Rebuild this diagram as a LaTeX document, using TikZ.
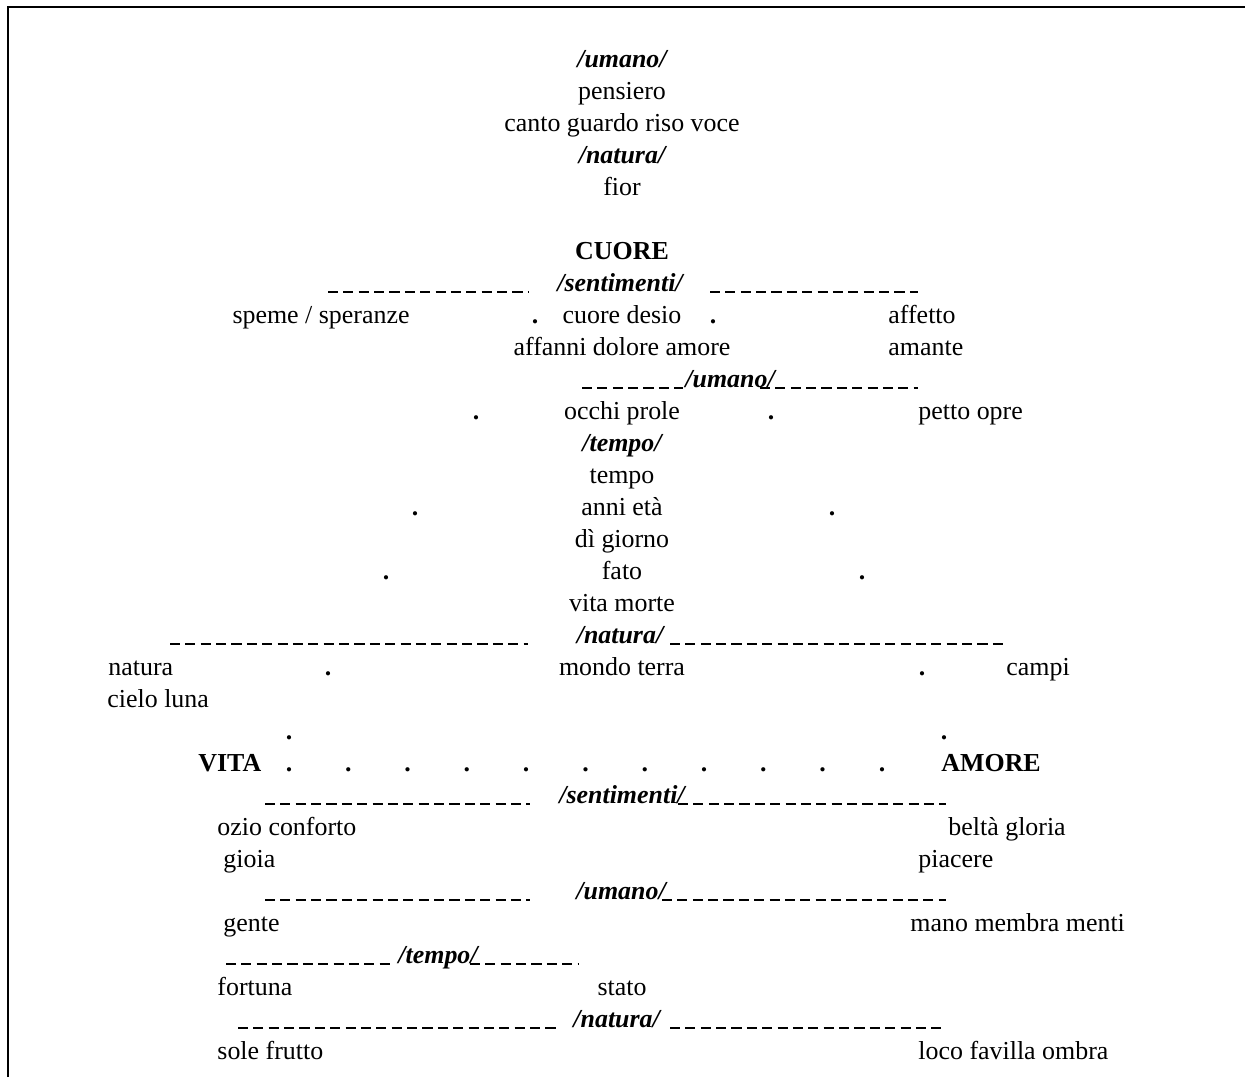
\documentclass[tikz,border=0pt]{standalone}
\usepackage{fontspec}
\setmainfont{Liberation Serif}
\usetikzlibrary{positioning}
\newcommand{\txtsize}{\fontsize{11.8pt}{14pt}\selectfont}
\tikzset{
  word/.style={anchor=base,inner sep=0pt,font=\txtsize},
  lword/.style={word,anchor=base west},
  cat/.style={anchor=base,inner sep=0pt,font=\txtsize\bfseries\itshape},
  lcat/.style={cat,anchor=base west},
  head/.style={anchor=base,inner sep=0pt,font=\txtsize\bfseries},
  lhead/.style={head,anchor=base west},
  pt/.style={head},
  rule/.style={line width=0.7pt,dash pattern=on 4.6pt off 2.4pt},
  frame/.style={line width=0.9pt}
}
\begin{document}
\begin{tikzpicture}[x=0.016cm,y=-0.016cm]
\useasboundingbox (0,0) rectangle (1245,1077);
\draw[frame] (8,1077) -- (8,7) -- (1245,7);

% top of the tree
\node[cat] (umano1) at (622,67) {/umano/};
\node[word] (pensiero) at (622,99) {pensiero};
\node[word] (canto) at (622,131) {canto guardo riso voce};
\node[cat] (natura1) at (622,163) {/natura/};
\node[word] (fior) at (622,195) {fior};

% CUORE
\node[head] (cuore) at (622,259) {CUORE};
\draw[rule] (328,292) -- (528,292);
\node[cat] (sent1) at (620,291) {/sentimenti/};
\draw[rule] (710,292) -- (918,292);
\node[word] (speme) at (321,323) {speme / speranze};
\node[pt] (dA) at (535,323) {.};
\node[word] (desio) at (622,323) {cuore desio};
\node[pt] (dB) at (713,323) {.};
\node[lword] (affetto) at (888,323) {affetto};
\node[word] (affanni) at (622,355) {affanni dolore amore};
\node[lword] (amante) at (888,355) {amante};
\draw[rule] (582,388) -- (683,388);
\node[lcat] (umano2) at (685,387) {/umano/};
\draw[rule] (760,388) -- (918,388);
\node[pt] (dC) at (476,419) {.};
\node[word] (occhi) at (622,419) {occhi prole};
\node[pt] (dD) at (771,419) {.};
\node[lword] (petto) at (918,419) {petto opre};

% tempo
\node[cat] (tempo1) at (622,451) {/tempo/};
\node[word] (tempo) at (622,483) {tempo};
\node[pt] (dE) at (415,515) {.};
\node[word] (anni) at (622,515) {anni età};
\node[pt] (dF) at (832,515) {.};
\node[word] (giorno) at (622,547) {dì giorno};
\node[pt] (dG) at (386,579) {.};
\node[word] (fato) at (622,579) {fato};
\node[pt] (dH) at (862,579) {.};
\node[word] (vita) at (622,611) {vita morte};

% natura
\draw[rule] (170,644) -- (528,644);
\node[cat] (natura2) at (620,643) {/natura/};
\draw[rule] (670,644) -- (1008,644);
\node[lword] (natura) at (108,675) {natura};
\node[pt] (dI) at (328,675) {.};
\node[word] (mondo) at (622,675) {mondo terra};
\node[pt] (dJ) at (922,675) {.};
\node[lword] (campi) at (1006,675) {campi};
\node[lword] (cielo) at (107,707) {cielo luna};
\node[pt] (dK) at (289,739) {.};
\node[pt] (dL) at (944,739) {.};

% VITA ... AMORE
\node[lhead] (vitaw) at (198,771) {VITA};
\foreach \i in {0,...,10}
  \node[pt] (vd\i) at ({289+59.3*\i},771) {.};
\node[lhead] (amore) at (941,771) {AMORE};

% lower branches
\draw[rule] (265,804) -- (530,804);
\node[cat] (sent2) at (622,803) {/sentimenti/};
\draw[rule] (678,804) -- (946,804);
\node[lword] (ozio) at (217,835) {ozio conforto};
\node[lword] (belta) at (948,835) {beltà gloria};
\node[lword] (gioia) at (223,867) {gioia};
\node[lword] (piacere) at (918,867) {piacere};
\draw[rule] (265,900) -- (530,900);
\node[lcat] (umano3) at (576,899) {/umano/};
\draw[rule] (662,900) -- (946,900);
\node[lword] (gente) at (223,931) {gente};
\node[lword] (mano) at (910,931) {mano membra menti};
\draw[rule] (226,964) -- (395,964);
\node[lcat] (tempo2) at (398,963) {/tempo/};
\draw[rule] (470,964) -- (578,964);
\node[lword] (fortuna) at (217,995) {fortuna};
\node[word] (stato) at (622,995) {stato};
\draw[rule] (238,1028) -- (560,1028);
\node[lcat] (natura3) at (573,1027) {/natura/};
\draw[rule] (670,1028) -- (946,1028);
\node[lword] (sole) at (217,1059) {sole frutto};
\node[lword] (loco) at (918,1059) {loco favilla ombra};

\end{tikzpicture}
\end{document}
